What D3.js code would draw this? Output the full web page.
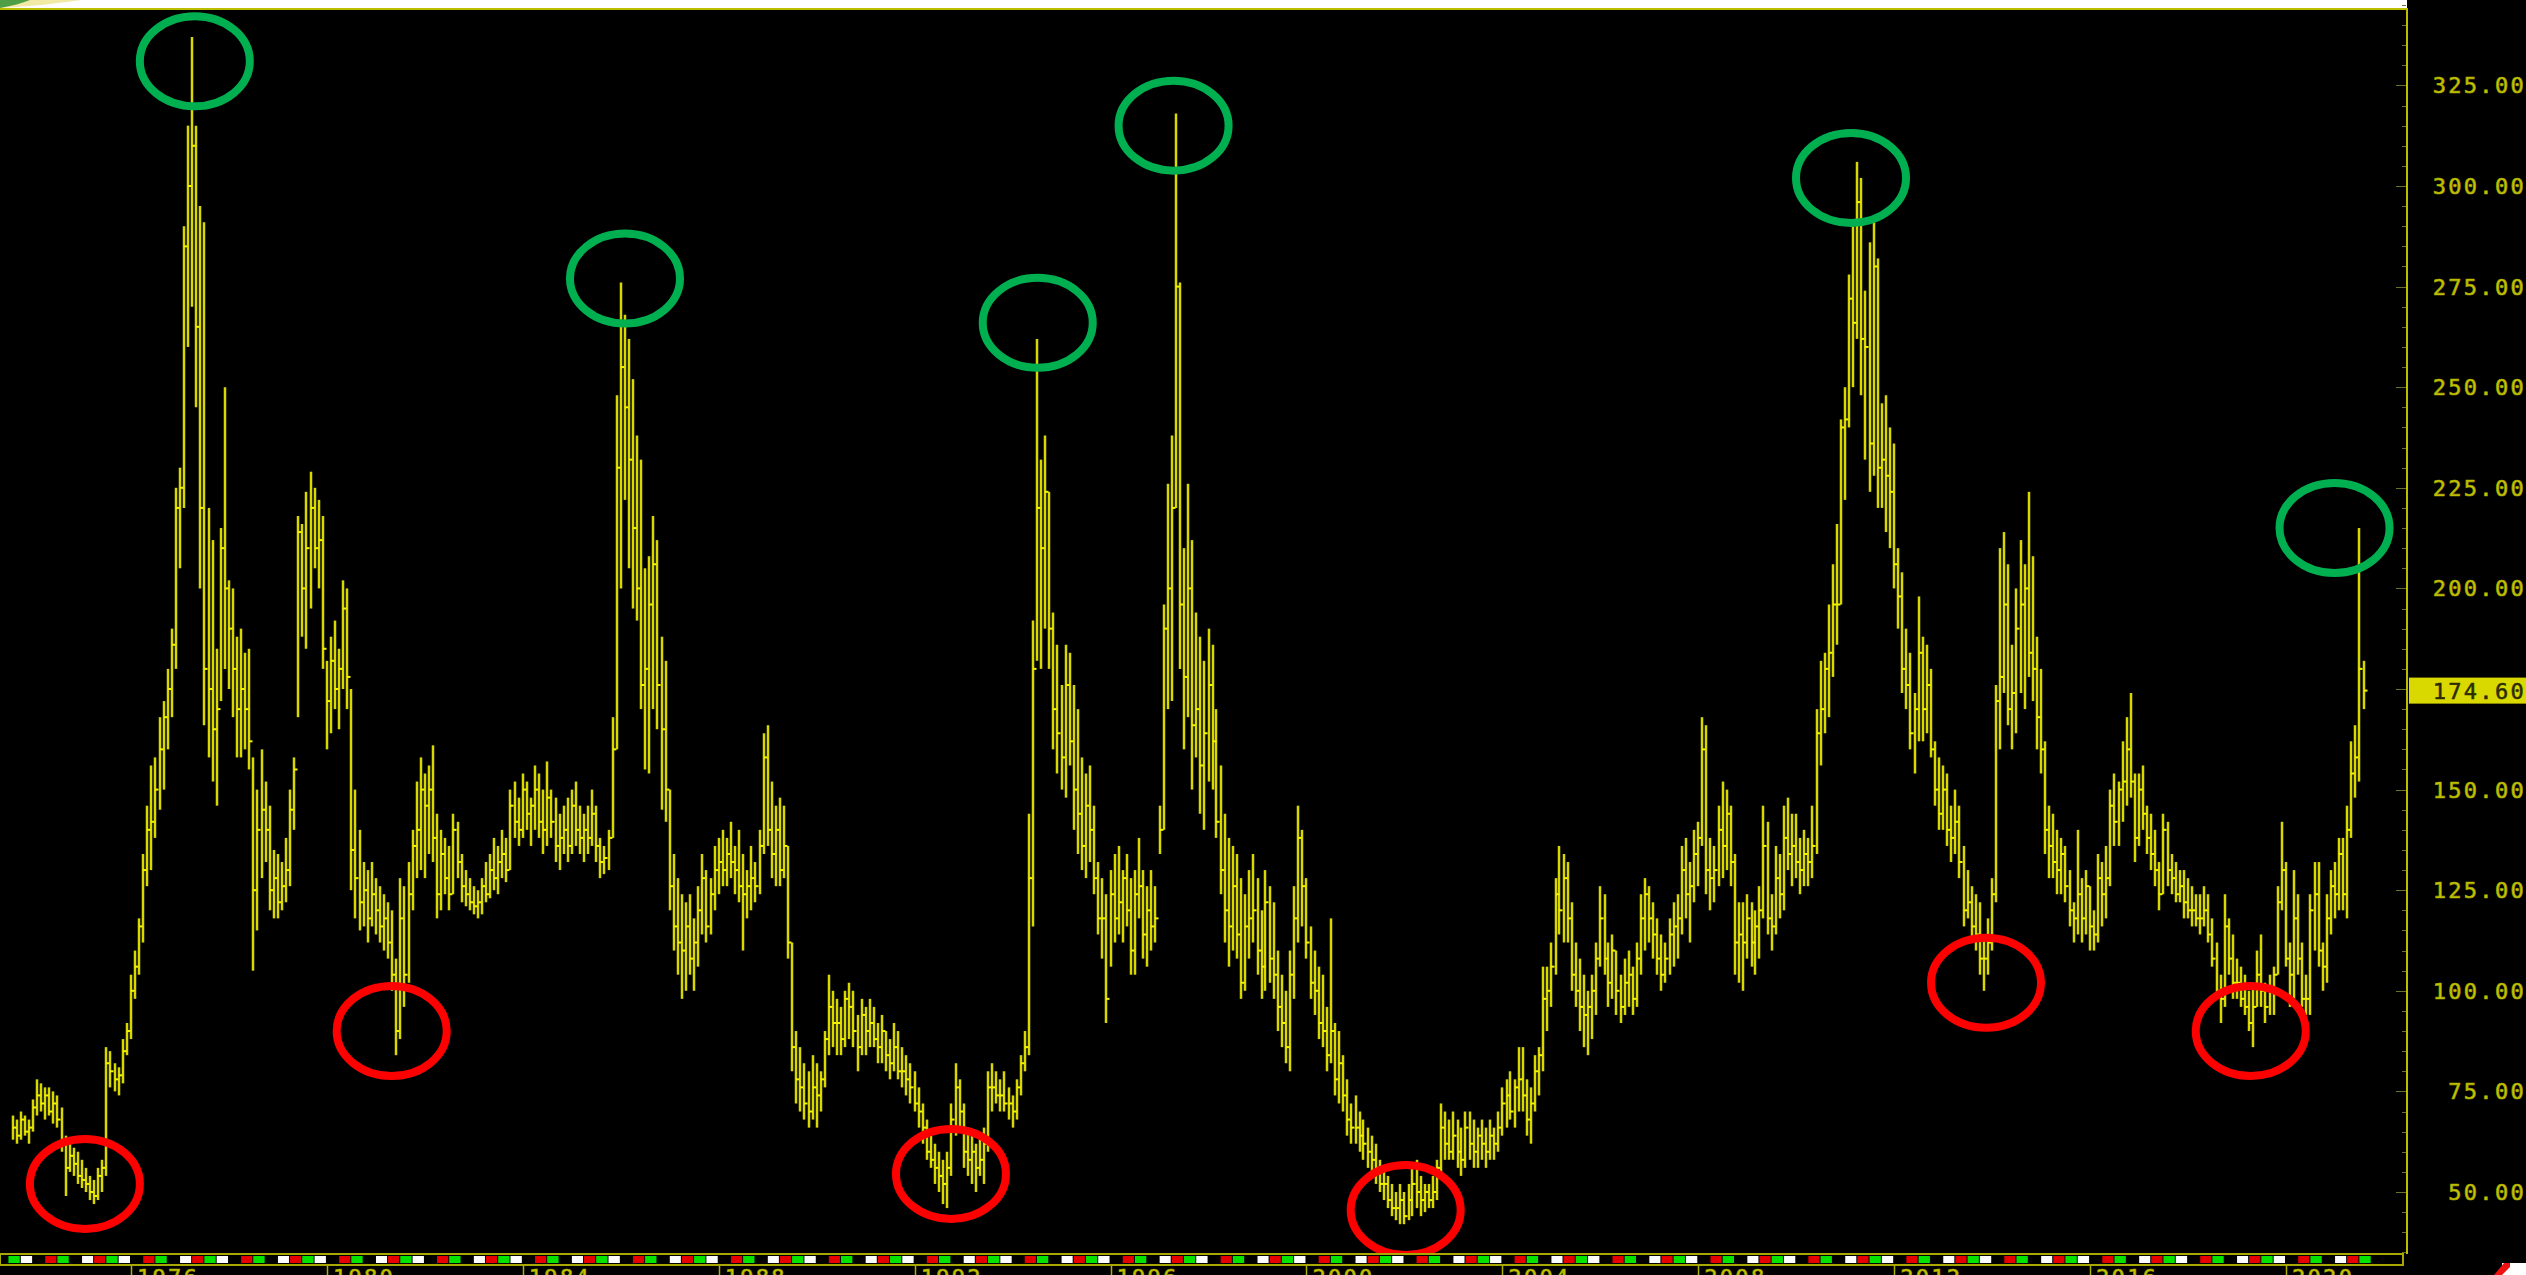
<!DOCTYPE html>
<html><head><meta charset="utf-8">
<script src="https://cdn.jsdelivr.net/npm/d3@7"></script>
<style>html,body{margin:0;padding:0;background:#000;overflow:hidden}</style>
</head><body>
<svg id="chart" width="2526" height="1275"></svg>
<script>
// ---- DATA (monthly bars, first bar = Aug 1973) ----
const firstYear = 1973, firstMonth = 7; // 0-based month (Aug)
const highs = [
 69,68,70,69,68,
 73,78,77,76,76,75,74,71,64,62,61,60,
 58,56,54,53,56,58,86,85,82,81,88,92,
 104,110,118,134,146,156,158,168,172,180,190,225,
 230,290,315,337,315,295,291,220,212,185,215,250,
 202,200,188,190,184,185,158,150,160,152,146,135,
 134,132,138,150,158,218,216,224,229,225,222,218,
 182,188,192,185,202,200,175,150,140,132,130,132,
 128,126,124,122,120,108,128,126,132,140,152,158,
 154,156,161,144,140,138,136,144,142,134,130,128,
 126,125,128,132,134,138,136,140,138,150,152,148,
 154,152,148,156,154,150,157,150,148,144,146,148,
 150,152,146,144,146,150,146,138,136,140,168,248,
 276,268,262,252,238,232,205,208,218,212,188,182,
 150,134,128,124,122,124,118,126,134,130,128,136,
 138,140,138,142,136,140,134,130,136,132,140,164,
 166,152,146,148,146,136,112,90,86,82,80,84,
 82,80,90,104,100,98,96,100,102,100,94,98,
 96,98,96,92,94,90,88,92,90,86,84,82,
 80,76,72,68,64,62,60,58,60,72,82,78,
 72,66,64,62,64,66,80,82,80,78,80,76,
 74,78,84,90,144,192,262,232,238,224,194,186,
 176,186,184,176,170,158,154,156,146,132,128,124,
 130,134,136,130,134,128,130,138,130,126,130,126,
 146,196,226,238,318,276,210,226,212,194,188,182,
 190,186,170,156,144,138,136,134,128,124,130,134,
 128,120,130,126,122,110,104,100,110,126,146,140,
 128,116,110,106,104,96,118,92,90,84,78,72,
 74,70,68,66,64,62,58,56,54,52,50,52,
 50,52,56,58,54,52,52,54,58,72,70,68,
 70,68,66,70,70,68,66,68,66,68,66,70,
 76,78,80,78,86,86,78,76,84,86,106,106,
 112,128,136,134,132,122,112,108,104,100,104,112,
 126,124,112,114,110,104,108,110,106,112,124,128,
 126,122,118,114,112,118,122,124,136,138,132,140,
 142,168,166,138,136,146,152,150,146,134,122,122,
 124,122,120,126,146,142,124,136,134,146,148,144,
 144,138,140,138,146,170,182,184,196,206,216,242,
 250,278,290,306,302,274,286,292,282,246,248,240,
 236,210,204,190,184,174,198,188,186,180,162,158,
 156,154,146,150,146,136,130,126,124,122,114,118,
 128,176,210,214,206,186,200,212,206,224,208,188,
 180,162,146,144,140,138,136,130,122,140,128,130,
 126,120,134,132,136,150,154,152,162,168,174,154,
 154,156,146,144,140,132,144,142,134,132,130,130,
 128,126,124,124,126,124,118,112,104,124,118,114,
 108,106,104,100,102,110,114,102,104,106,126,142,
 132,112,130,124,112,104,124,132,132,112,124,130,
 132,138,138,146,162,166,215,182
];
const lows = [
 63,62,63,64,62,
 65,69,70,68,69,67,66,60,49,55,54,52,
 51,50,48,47,48,50,54,76,75,74,77,84,
 88,98,104,112,126,130,138,145,150,160,168,180,
 205,220,260,270,245,200,166,158,152,146,172,180,
 175,168,158,158,160,155,105,115,128,132,120,118,
 118,120,122,126,140,168,188,185,195,205,200,180,
 160,164,170,165,175,170,125,118,115,116,112,116,
 114,112,110,108,100,84,88,96,102,120,128,130,
 128,134,132,118,120,124,120,124,128,122,121,120,
 119,118,119,122,123,125,124,128,127,130,138,136,
 138,140,136,140,138,134,136,138,132,130,134,132,
 134,136,134,132,134,136,132,128,129,130,138,160,
 200,222,205,195,192,170,155,154,170,165,145,142,
 120,110,104,98,100,104,100,106,114,112,114,120,
 124,126,126,128,124,122,110,118,120,122,124,134,
 136,128,126,126,128,108,80,72,70,68,66,68,
 66,70,76,84,86,84,84,86,88,86,80,84,
 84,86,86,82,82,80,78,80,78,76,74,72,
 70,66,62,58,56,52,50,47,46,54,64,66,
 56,54,52,50,54,52,60,70,72,70,70,68,
 66,68,74,80,84,116,182,180,190,180,160,154,
 150,148,156,140,134,130,128,132,124,114,108,92,
 106,112,114,112,116,104,104,118,108,106,110,112,
 134,140,170,172,220,180,160,168,150,158,144,140,
 152,150,138,124,112,106,110,108,98,100,108,112,
 104,98,100,102,98,90,86,82,80,98,112,116,
 108,98,94,88,86,80,82,74,72,70,64,62,
 62,60,58,56,54,52,50,48,46,44,43,42,
 42,43,44,46,44,45,46,46,48,54,58,58,
 58,56,54,56,58,56,56,58,56,58,58,60,
 64,66,68,66,70,70,64,62,70,74,80,90,
 96,104,114,112,112,100,96,90,86,84,88,94,
 106,104,96,98,94,92,94,96,94,96,104,110,
 112,108,104,100,102,104,106,108,114,118,112,122,
 126,136,124,120,122,126,128,130,126,104,102,100,
 108,106,104,108,118,114,110,114,118,120,130,126,
 128,124,126,126,128,134,156,164,168,178,186,196,
 222,240,250,262,248,232,224,228,220,220,214,210,
 200,190,174,170,160,154,162,162,164,158,146,140,
 140,136,132,134,128,116,118,112,110,104,100,104,
 110,122,160,174,166,160,164,174,170,178,172,160,
 154,134,128,128,124,124,122,116,112,114,112,114,
 110,110,112,116,118,126,136,136,142,146,148,132,
 136,140,134,130,126,120,124,126,124,122,122,118,
 118,116,116,114,116,112,106,98,92,96,104,98,
 98,96,94,90,86,96,96,92,94,94,104,120,
 106,96,98,104,96,94,94,110,106,100,102,114,
 118,120,120,118,138,148,152,170
];
const closes = [
 66,64,68,65,66,
 71,74,72,74,70,72,68,62,56,59,57,54,
 53,52,50,49,54,56,82,80,78,79,85,90,
 100,106,116,130,140,142,150,160,168,175,186,220,
 225,285,300,310,265,220,180,175,165,170,210,200,
 190,180,170,175,170,162,125,140,145,140,125,128,
 122,126,130,145,155,214,200,210,220,210,212,185,
 172,182,175,180,195,178,135,128,122,125,118,124,
 120,116,118,112,104,90,118,104,124,136,140,150,
 146,150,138,124,134,128,124,140,132,126,124,122,
 121,122,126,124,130,128,132,134,130,146,142,140,
 150,144,146,150,142,140,148,142,136,138,140,136,
 146,140,138,140,138,144,136,132,133,138,160,230,
 255,245,232,215,200,176,180,196,206,176,165,150,
 126,116,112,110,116,108,112,120,128,116,124,130,
 132,130,134,132,130,126,124,126,128,126,136,158,
 140,134,140,130,136,112,86,78,76,72,70,76,
 74,78,88,96,92,92,88,98,96,90,86,94,
 90,92,88,86,90,84,82,86,80,80,78,76,
 72,70,66,60,58,56,54,52,56,68,76,70,
 60,58,60,56,58,62,76,76,74,74,72,72,
 70,76,82,86,128,180,220,210,224,190,170,164,
 158,176,162,150,144,136,146,140,128,118,118,98,
 124,118,122,128,120,110,124,126,114,120,116,118,
 140,190,200,220,275,196,178,200,166,170,156,164,
 176,162,142,130,120,116,126,114,102,116,118,120,
 110,106,122,108,104,96,92,86,104,118,138,126,
 112,102,100,92,90,84,90,78,82,74,68,66,
 66,64,62,60,58,56,52,52,48,46,46,48,
 44,48,52,50,48,50,48,50,56,66,62,60,
 64,60,58,66,62,60,64,62,60,64,62,66,
 72,74,70,76,78,74,68,72,80,84,98,100,
 106,124,120,128,118,104,100,96,94,96,100,108,
 118,108,102,110,100,96,102,104,98,108,118,124,
 118,114,108,104,108,114,116,118,130,124,126,134,
 138,160,130,128,130,140,136,144,132,112,114,112,
 118,112,116,120,136,118,116,128,124,138,134,136,
 132,130,134,132,136,164,170,180,184,196,196,240,
 242,272,266,296,262,260,236,280,230,232,228,224,
 206,198,180,176,164,170,184,170,176,160,150,144,
 150,140,138,142,132,120,122,116,114,108,108,112,
 124,172,178,196,170,174,190,196,200,184,180,168,
 160,140,136,132,130,134,126,120,118,124,118,126,
 116,114,128,124,128,146,142,150,152,160,152,138,
 150,144,138,134,130,124,140,130,128,124,126,122,
 120,120,118,118,120,114,108,100,98,116,108,102,
 102,98,96,92,96,104,100,96,100,104,122,130,
 108,104,118,108,98,98,120,124,110,106,118,126,
 124,134,124,140,154,158,180,174.6
];
const yearTicks = [1976,1980,1984,1988,1992,1996,2000,2004,2008,2012,2016,2020];
const priceTicks = [50,75,100,125,150,175,200,225,250,275,300,325];
const lastPrice = 174.60;
// annotation ellipses (centre date, centre price)
const peakDates  = ['1977-04-21','1986-02-01','1994-07-07','1997-04-15','2011-02-13','2020-12-28'];
const peakLevels = [331,277,266,315,302,215];
const lowDates   = ['1975-01-22','1981-04-28','1992-09-28','2002-01-10','2013-11-16','2019-04-13'];
const lowLevels  = [52,90,54.5,45.5,102,90];
const stripColors = ['#00e400','#ffffff','#000000','#e80000','#00e400','#000000','#ffffff','#e80000'];

// ---- DRAW ----
const W = 2526, H = 1275;
const plotRight = 2407, plotTop = 9, stripTop = 1254, stripBot = 1265;
const svg = d3.select('#chart');
const x = d3.scaleTime().domain([new Date(1976,0,1), new Date(2020,0,1)]).range([131, 2286]);
const y = d3.scaleLinear().domain([50, 325]).range([1192, 85.4]);
const parse = d3.timeParse('%Y-%m-%d');

svg.append('rect').attr('width', W).attr('height', H).attr('fill', '#000');
// top band + logo fragment
svg.append('rect').attr('x', 0).attr('y', 0).attr('width', plotRight).attr('height', plotTop - 1).attr('fill', '#ffffff');
svg.append('path').attr('d', 'M0,0 L82,0 C60,3 35,6 0,8 Z').attr('fill', '#f1e9a6');
svg.append('path').attr('d', 'M0,0 L30,0 C22,3 12,6 0,8 Z').attr('fill', '#4f9d45');

const bars = closes.map((c, i) => ({
  date: new Date(firstYear, firstMonth + i, 1), h: highs[i], l: lows[i], c: c
}));

const gb = svg.append('g').attr('stroke', '#d8d800').attr('stroke-width', 2.5).attr('fill', 'none');
gb.selectAll('line.hl').data(bars).join('line').attr('class', 'hl')
  .attr('x1', d => Math.round(x(d.date))).attr('x2', d => Math.round(x(d.date)))
  .attr('y1', d => y(d.h)).attr('y2', d => y(d.l));
gb.selectAll('line.cl').data(bars).join('line').attr('class', 'cl')
  .attr('stroke', '#f4f400').attr('stroke-width', 2)
  .attr('x1', d => Math.round(x(d.date))).attr('x2', d => Math.round(x(d.date)) + 3.5)
  .attr('y1', d => y(d.c)).attr('y2', d => y(d.c));

// plot frame
svg.append('line').attr('x1', 0).attr('x2', plotRight + 1).attr('y1', plotTop).attr('y2', plotTop)
  .attr('stroke', '#bdbd00').attr('stroke-width', 2);
svg.append('line').attr('x1', plotRight).attr('x2', plotRight).attr('y1', plotTop).attr('y2', stripTop)
  .attr('stroke', '#bdbd00').attr('stroke-width', 2);

// y ticks (minor + major) inside the right edge
const minor = d3.range(35, 346, 5);
svg.append('g').selectAll('line').data(minor).join('line')
  .attr('x1', d => priceTicks.includes(d) ? plotRight - 11 : plotRight - 5).attr('x2', plotRight - 1)
  .attr('y1', d => Math.round(y(d)) + 0.5).attr('y2', d => Math.round(y(d)) + 0.5)
  .attr('stroke', '#6e6e28').attr('stroke-width', 1);

// y labels
const lblFont = "'DejaVu Sans Mono', monospace";
svg.append('g').selectAll('text').data(priceTicks.filter(p => Math.abs(p - lastPrice) > 8)).join('text')
  .attr('x', 2526).attr('y', d => y(d) + 8)
  .attr('text-anchor', 'end').attr('font-family', lblFont).attr('font-size', 22)
  .attr('letter-spacing', 2.3).attr('fill', '#c8c800')
  .attr('stroke', '#a6a600').attr('stroke-width', 0.7)
  .text(d => d3.format('.2f')(d));

// last price box
svg.append('rect').attr('x', 2409).attr('y', y(lastPrice) - 13).attr('width', 117).attr('height', 26)
  .attr('fill', '#d9d900');
svg.append('text').attr('x', 2526).attr('y', y(lastPrice) + 8)
  .attr('text-anchor', 'end').attr('font-family', lblFont).attr('font-size', 22)
  .attr('letter-spacing', 2.3).attr('fill', '#2c2c00').attr('stroke', '#2c2c00').attr('stroke-width', 0.5)
  .text(d3.format('.2f')(lastPrice));

// annotation ellipses
const ell = svg.append('g').attr('fill', 'none').attr('stroke-width', 8);
ell.selectAll('ellipse.pk').data(peakDates.map((d, i) => ({d: parse(d), v: peakLevels[i]}))).join('ellipse')
  .attr('class', 'pk').attr('cx', d => x(d.d)).attr('cy', d => y(d.v)).attr('rx', 55).attr('ry', 45)
  .attr('stroke', '#00b050');
ell.selectAll('ellipse.lw').data(lowDates.map((d, i) => ({d: parse(d), v: lowLevels[i]}))).join('ellipse')
  .attr('class', 'lw').attr('cx', d => x(d.d)).attr('cy', d => y(d.v)).attr('rx', 55).attr('ry', 45)
  .attr('stroke', '#ff0000');

// bottom strip (one block per quarter)
const quarters = d3.timeMonth.every(3).range(new Date(1973, 6, 1), new Date(2021, 9, 1));
svg.append('rect').attr('x', 0).attr('y', stripTop).attr('width', 2403).attr('height', stripBot - stripTop)
  .attr('fill', '#000').attr('stroke', '#a8a800').attr('stroke-width', 2);
svg.append('g').selectAll('rect').data(quarters).join('rect')
  .attr('x', d => Math.max(0, x(d))).attr('y', stripTop + 2)
  .attr('width', d => Math.max(0, x(d3.timeMonth.offset(d, 3)) - Math.max(0, x(d)) - 1))
  .attr('height', stripBot - stripTop - 4)
  .attr('fill', (d, i) => stripColors[i % stripColors.length]);

// year ticks and labels (partly below the page edge, as in the reference)
const gx = svg.append('g');
gx.selectAll('line').data(yearTicks).join('line')
  .attr('x1', d => Math.round(x(new Date(d, 0, 1))) + 0.5).attr('x2', d => Math.round(x(new Date(d, 0, 1))) + 0.5)
  .attr('y1', stripBot + 1).attr('y2', H).attr('stroke', '#b0b000').attr('stroke-width', 1.5);
gx.selectAll('text').data(yearTicks).join('text')
  .attr('x', d => x(new Date(d, 0, 1)) + 6).attr('y', 1285)
  .attr('font-family', lblFont).attr('font-size', 22).attr('letter-spacing', 2.3)
  .attr('fill', '#c8c800').attr('stroke', '#a6a600').attr('stroke-width', 0.7).text(d => d);

// small icon bottom-right
svg.append('rect').attr('x', 2502).attr('y', 1263).attr('width', 24).attr('height', 12).attr('fill', '#ffffff');
svg.append('path').attr('d', 'M2494,1275 L2504,1263 L2510,1263 L2510,1267 L2502,1275 Z').attr('fill', '#ee1111');
</script>
</body></html>
